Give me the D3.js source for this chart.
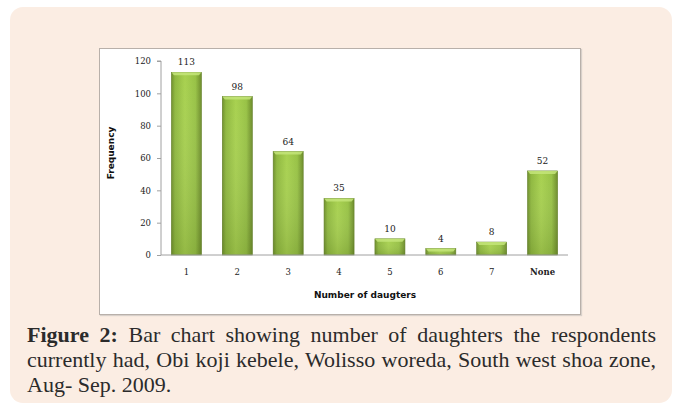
<!DOCTYPE html>
<html><head><meta charset="utf-8">
<script src="https://cdn.jsdelivr.net/npm/d3@7"></script>
<style>
html,body{margin:0;padding:0;background:#fff;width:678px;height:405px;overflow:hidden;}
#panel{position:absolute;left:10px;top:7px;width:662px;height:396px;background:#fbede3;border-radius:13px;}
#box{position:absolute;left:99px;top:48px;width:480px;height:265px;background:#fff;border:1px solid #b8b0aa;box-shadow:1px 1px 1px #d8d0ca;}
svg{position:absolute;left:0;top:0;}
#cap{position:absolute;left:27px;top:322px;width:629px;font-family:"Liberation Serif","Times New Roman",serif;font-size:22px;line-height:25px;color:#2b2b2b;}
#cap .j{text-align:justify;text-align-last:justify;white-space:nowrap;}
</style></head>
<body>
<div id="panel"></div>
<div id="box"></div>
<svg id="chart" width="678" height="405"></svg>
<div id="cap"><div class="j"><b>Figure 2:</b> Bar chart showing number of daughters the respondents</div><div class="j">currently had, Obi koji kebele, Wolisso woreda, South west shoa zone,</div><div>Aug- Sep. 2009.</div></div>
<script>
const categories = ["1","2","3","4","5","6","7","None"];
const frequency = [113, 98, 64, 35, 10, 4, 8, 52];
const yTicks = [0, 20, 40, 60, 80, 100, 120];

const svg = d3.select("#chart");
const x0 = 161, x1 = 568, yTop = 61, yBot = 255;
const x = d3.scaleBand().domain(categories).range([x0, x1]).paddingInner(0.41).paddingOuter(0.205);
const y = d3.scaleLinear().domain([0, 120]).range([yBot, yTop]);

const defs = svg.append("defs");
const g1 = defs.append("linearGradient").attr("id","barH").attr("x1","0").attr("x2","1").attr("y1","0").attr("y2","0");
[["0%","#6f8f2c"],["12%","#8fb83f"],["45%","#a8d150"],["80%","#98c246"],["100%","#6d8c2b"]].forEach(s=>g1.append("stop").attr("offset",s[0]).attr("stop-color",s[1]));
const g2 = defs.append("linearGradient").attr("id","barV").attr("x1","0").attr("x2","0").attr("y1","0").attr("y2","1");
[["0%","#ffffff",0.0],["100%","#3c5214",0.18]].forEach(s=>g2.append("stop").attr("offset",s[0]).attr("stop-color",s[1]).attr("stop-opacity",s[2]));

// y axis
const yAxis = d3.axisLeft(y).tickValues(yTicks).tickSize(4).tickPadding(6);
const ya = svg.append("g").attr("transform",`translate(${x0},0)`).call(yAxis);
ya.select(".domain").attr("stroke","#a0a0a0").attr("d",`M-4,${yTop}H0V${yBot}`);
ya.selectAll(".tick line").attr("stroke","#a0a0a0");
ya.selectAll("text").attr("font-family","'DejaVu Serif',serif").attr("font-size","8.5px").attr("fill","#222");

// bars
const bars = svg.append("g");
bars.selectAll("rect.b").data(frequency).join("rect").attr("class","b")
  .attr("x",(d,i)=>x(categories[i])).attr("y",d=>y(d)).attr("width",x.bandwidth()).attr("height",d=>yBot-y(d))
  .attr("fill","url(#barH)").attr("stroke","#5f7d25").attr("stroke-width",0.6);
bars.selectAll("rect.v").data(frequency).join("rect").attr("class","v")
  .attr("x",(d,i)=>x(categories[i])).attr("y",d=>y(d)).attr("width",x.bandwidth()).attr("height",d=>yBot-y(d))
  .attr("fill","url(#barV)");
bars.selectAll("path.cap").data(frequency).join("path").attr("class","cap")
  .attr("d",(d,i)=>{const bx=x(categories[i]),w=x.bandwidth(),t=y(d),h=Math.min(3,yBot-t);return `M${bx},${t}H${bx+w}L${bx+w-2.5},${t+h}H${bx+2.5}Z`;})
  .attr("fill","#c4e57a").attr("opacity",0.85);

// x axis
const xAxis = d3.axisBottom(x).tickSize(0).tickPadding(12);
const xa = svg.append("g").attr("transform",`translate(0,${yBot})`).call(xAxis);
xa.select(".domain").attr("stroke","#a0a0a0").attr("d",`M${x0},0H${x1}`);
xa.selectAll("text").attr("font-family","'DejaVu Serif',serif").attr("font-size","8.5px").attr("fill","#222").attr("dy","0.9em");
xa.selectAll(".tick").filter(d=>d==="None").select("text").attr("font-weight","bold");

// data labels
svg.append("g").selectAll("text").data(frequency).join("text")
  .attr("x",(d,i)=>x(categories[i])+x.bandwidth()/2).attr("y",d=>y(d)-7)
  .attr("text-anchor","middle").attr("font-family","'DejaVu Serif',serif").attr("font-size","9px").attr("fill","#222")
  .text(d=>d);

// axis titles
svg.append("text").attr("x",365).attr("y",298).attr("text-anchor","middle")
  .attr("font-family","'DejaVu Sans',sans-serif").attr("font-weight","bold").attr("font-size","9px").attr("fill","#111")
  .text("Number of daugters");
svg.append("text").attr("transform","translate(114,153) rotate(-90)").attr("text-anchor","middle")
  .attr("font-family","'DejaVu Sans',sans-serif").attr("font-weight","bold").attr("font-size","9px").attr("fill","#111")
  .text("Frequency");
</script>
</body></html>
